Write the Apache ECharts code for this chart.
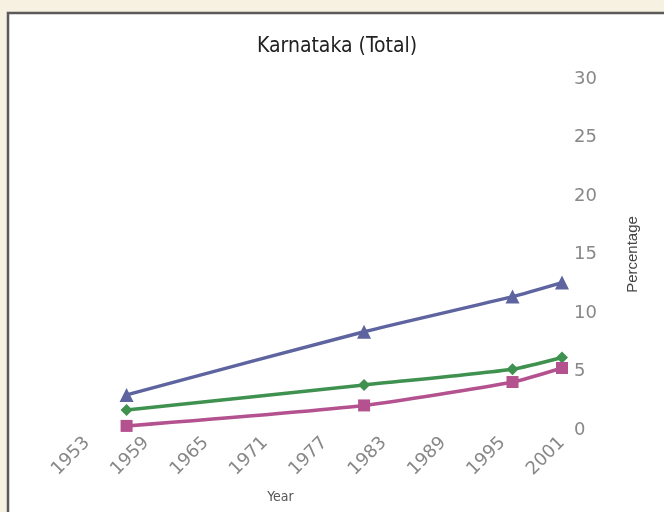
<!DOCTYPE html>
<html>
<head>
<meta charset="utf-8">
<script src="https://cdn.jsdelivr.net/npm/echarts@6/dist/echarts.min.js"></script>
<style>
  html, body { margin: 0; padding: 0; background: #f6f1e0; }
  #main { width: 664px; height: 512px; }
</style>
</head>
<body>
<div id="main"></div>
<script>
// survey years and percentages
var years = [1957, 1981, 1996, 2001];
var blueValues = [3.0, 8.4, 11.4, 12.6];
var greenValues = [1.7, 3.85, 5.2, 6.2];
var pinkValues = [0.35, 2.1, 4.1, 5.3];

// axis ranges (tick labels come from these)
var xMin = 1953, xMax = 2001, xStep = 6;
var yMin = 0, yMax = 30, yStep = 5;

function pairs(vals) {
  return years.map(function (y, i) { return [y, vals[i]]; });
}

var chart = echarts.init(document.getElementById('main'));

var option = {
  backgroundColor: '#f6f1e0',
  animation: false,
  graphic: [{
    type: 'rect',
    z: -10,
    shape: { x: 8, y: 13, width: 720, height: 600 },
    style: { fill: '#ffffff', stroke: '#5a5a5a', lineWidth: 2.5 }
  }],
  title: {
    text: 'Karnataka (Total)',
    left: 332,
    top: 31,
    textAlign: 'center',
    textStyle: {
      fontFamily: 'DejaVu Sans Condensed',
      fontSize: 21,
      fontWeight: 'normal',
      color: '#222'
    }
  },
  grid: { left: 87, right: 102, top: 79, bottom: 82 },
  xAxis: {
    type: 'value',
    min: xMin,
    max: xMax,
    interval: xStep,
    name: 'Year',
    nameLocation: 'middle',
    nameGap: 60,
    nameTextStyle: {
      fontFamily: 'DejaVu Sans Condensed',
      fontSize: 14,
      color: '#555',
      padding: [0, 88, 0, 0]
    },
    axisLine: { show: false },
    axisTick: { show: false },
    splitLine: { show: false },
    axisLabel: {
      rotate: 45,
      margin: 10,
      fontFamily: 'DejaVu Sans',
      fontSize: 18,
      color: '#888',
      showMinLabel: true,
      showMaxLabel: true,
      formatter: function (v) { return String(v); }
    }
  },
  yAxis: {
    type: 'value',
    position: 'right',
    min: yMin,
    max: yMax,
    interval: yStep,
    name: 'Percentage',
    nameLocation: 'middle',
    nameRotate: 90,
    nameGap: 63,
    nameTextStyle: {
      fontFamily: 'Liberation Sans',
      fontSize: 15,
      color: '#444'
    },
    axisLine: { show: false },
    axisTick: { show: false },
    splitLine: { show: false },
    axisLabel: {
      margin: 12,
      fontFamily: 'DejaVu Sans',
      fontSize: 18,
      color: '#888'
    }
  },
  series: [{
    name: 'blue',
    type: 'line',
    smooth: 0.2,
    data: pairs(blueValues),
    symbol: 'triangle',
    symbolSize: 14,
    lineStyle: { width: 3.5, color: '#5e64a0' },
    itemStyle: { color: '#5e64a0' }
  }, {
    name: 'green',
    type: 'line',
    smooth: 0.2,
    data: pairs(greenValues),
    symbol: 'diamond',
    symbolSize: 12,
    lineStyle: { width: 3.5, color: '#3f9150' },
    itemStyle: { color: '#3f9150' }
  }, {
    name: 'pink',
    type: 'line',
    smooth: 0.2,
    data: pairs(pinkValues),
    symbol: 'rect',
    symbolSize: 12,
    lineStyle: { width: 3.5, color: '#b4528f' },
    itemStyle: { color: '#b4528f' }
  }]
};

chart.setOption(option);
</script>
</body>
</html>
